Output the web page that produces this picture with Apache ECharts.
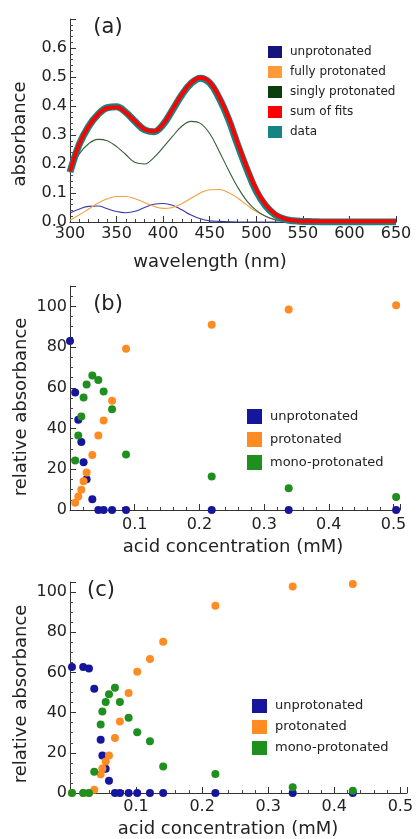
<!DOCTYPE html>
<html>
<head>
<meta charset="utf-8">
<script src="https://cdn.jsdelivr.net/npm/echarts@6/dist/echarts.min.js"></script>
<style>
html,body{margin:0;padding:0;background:#fff;}
#chart{width:417px;height:839px;}
</style>
</head>
<body>
<div id="chart"></div>
<script>
// ---- Panel (a): absorbance spectra ----
const wavelength = [300,310,320,330,340,350,360,370,380,390,400,410,420,430,440,450,460,470,480,490,500,510,520,530,540,550,560,570,580,590,600,610,620,630,640,650];
const unprotA  = [.031,.045,.054,.055,.046,.036,.032,.037,.050,.061,.064,.058,.042,.024,.011,.004,.002,.001,0,0,0,0,0,0,0,0,0,0,0,0,0,0,0,0,0,0];
const fullyA   = [.006,.025,.045,.065,.080,.088,.088,.080,.067,.054,.047,.050,.063,.082,.100,.111,.112,.102,.083,.058,.036,.020,.009,.004,.001,0,0,0,0,0,0,0,0,0,0,0];
const singlyA  = [.168,.235,.270,.285,.280,.260,.232,.205,.200,.222,.257,.295,.330,.347,.340,.305,.245,.180,.120,.072,.040,.020,.008,.003,.001,0,0,0,0,0,0,0,0,0,0,0];
const sumA     = [.175,.270,.330,.370,.393,.396,.377,.347,.320,.313,.338,.388,.440,.480,.497,.482,.432,.362,.272,.187,.112,.060,.028,.012,.005,.003,.003,.003,.003,.003,.003,.003,.003,.003,.003,.003];
const dataA    = [.172,.268,.330,.371,.394,.397,.378,.346,.318,.311,.336,.386,.438,.478,.496,.480,.428,.356,.266,.181,.106,.056,.025,.010,.004,.002,.001,0,0,0,0,0,0,0,0,0];

// ---- Panel (b): relative absorbance vs acid concentration ----
const concB    = [0, 0.008, 0.0128, 0.0175, 0.021, 0.0257, 0.0345, 0.0438, 0.052, 0.065, 0.0866, 0.219, 0.338, 0.504];
const unprotB  = [83, 57.7, 44.3, 33.4, 23.4, 15.1, 5.3, 0, 0, 0, 0, 0, 0, 0];
const protB    = [null, 3.6, 6.6, 10, 14.1, 18.4, 27, 36.6, 43.9, 53.6, 79.2, 91, 98.4, 100.5];
const monoB    = [null, 24.3, 36.6, 45.9, 55.3, 61.6, 66.1, 63.9, 58.2, 49.5, 27.2, 16.4, 10.7, 6.4];

// ---- Panel (c) ----
const concC    = [0.003, 0.020, 0.0287, 0.0367, 0.0464, 0.049, 0.054, 0.059, 0.068, 0.0755, 0.0887, 0.1017, 0.121, 0.141, 0.220, 0.337, 0.428];
const unprotC  = [62.7, 62.7, 62, 51.9, 26.5, 18.6, 12.1, 6.1, 0, 0, 0, 0, 0, 0, 0, 0, 0];
const protC    = [0, 0, 0, 1.6, 9.3, 12.2, 15.7, 18.7, 27.4, 35.6, 49.8, 60.3, 66.7, 75.3, 93.2, 102.8, 104];
const monoC    = [0, 0, 0, 10.6, 34.1, 40.6, 45.3, 49.1, 52.4, 45.3, 37.5, 30.2, 25.7, 13.2, 9.4, 2.8, 1.1];

const FONT = 'DejaVu Sans';
const C = {
  navy:'#14147f', orangeLine:'#f2a040', darkGreen:'#0d3d0d', red:'#ff0000', teal:'#158484',
  blue:'#16169c', orange:'#ff8c22', green:'#1f8f1f'
};

function pairs(xs, ys){ const out=[]; xs.forEach((x,i)=>{ if(ys[i]!==null && ys[i]!==undefined) out.push([x,ys[i]]); }); return out; }

const axisLineStyle = {lineStyle:{color:'#333',width:1}};
const tickStyle = {inside:true,length:6,lineStyle:{color:'#333'}};
const minorStyle = (n)=>({show:true,splitNumber:n,length:3,lineStyle:{color:'#444'}});
const labelBase = {color:'#222',fontFamily:FONT,fontSize:16};

const chart = echarts.init(document.getElementById('chart'), null, {renderer:'canvas'});

const option = {
  backgroundColor:'#ffffff',
  animation:false,
  grid:[
    {left:70, top:19, width:326, height:203},
    {left:70, top:286, width:330, height:224},
    {left:70, top:582, width:337, height:211}
  ],
  xAxis:[
    {gridIndex:0,type:'value',min:300,max:650,interval:50,axisLine:axisLineStyle,axisTick:tickStyle,minorTick:minorStyle(5),splitLine:{show:false},
     axisLabel:Object.assign({},labelBase,{margin:4})},
    {gridIndex:1,type:'value',min:0,max:0.51,interval:0.1,axisLine:axisLineStyle,axisTick:tickStyle,minorTick:minorStyle(5),splitLine:{show:false},
     axisLabel:Object.assign({},labelBase,{margin:7,formatter:v=>(v>0.001&&v<0.5001)?v.toFixed(1):''})},
    {gridIndex:2,type:'value',min:0,max:0.51,interval:0.1,axisLine:axisLineStyle,axisTick:tickStyle,minorTick:minorStyle(5),splitLine:{show:false},
     axisLabel:Object.assign({},labelBase,{margin:6,formatter:v=>(v>0.001&&v<0.5001)?v.toFixed(1):''})}
  ],
  yAxis:[
    {gridIndex:0,type:'value',min:0,max:0.7,interval:0.1,axisLine:Object.assign({show:true},axisLineStyle),axisTick:tickStyle,minorTick:minorStyle(5),splitLine:{show:false},
     axisLabel:Object.assign({},labelBase,{margin:3,formatter:v=>v<0.65?v.toFixed(1):''})},
    {gridIndex:1,type:'value',min:0,max:110,interval:20,axisLine:Object.assign({show:true},axisLineStyle),axisTick:tickStyle,minorTick:minorStyle(4),splitLine:{show:false},
     axisLabel:Object.assign({},labelBase,{margin:3,formatter:v=>v<=100?String(v):''})},
    {gridIndex:2,type:'value',min:0,max:105,interval:20,axisLine:Object.assign({show:true},axisLineStyle),axisTick:tickStyle,minorTick:minorStyle(4),splitLine:{show:false},
     axisLabel:Object.assign({},labelBase,{margin:3,formatter:v=>v<=100?String(v):''})}
  ],
  legend:[
    {orient:'vertical',left:268,top:46,padding:0,itemWidth:14,itemHeight:12,itemGap:8,icon:'rect',
     textStyle:{fontFamily:FONT,fontSize:12,color:'#222',padding:[0,0,0,3],lineHeight:12},
     data:[
      {name:'unprotonated',itemStyle:{color:C.navy,opacity:1}},
      {name:'fully protonated',itemStyle:{color:'#ff9a3a',opacity:1}},
      {name:'singly protonated',itemStyle:{color:C.darkGreen,opacity:1}},
      {name:'sum of fits',itemStyle:{color:C.red,opacity:1}},
      {name:'data',itemStyle:{color:C.teal,opacity:1}}
     ]},
    {orient:'vertical',left:247,top:409,padding:0,itemWidth:15,itemHeight:15,itemGap:8,icon:'rect',
     textStyle:{fontFamily:FONT,fontSize:13,color:'#222',padding:[0,0,0,3],lineHeight:15},
     data:[
      {name:'unprotonated',itemStyle:{color:C.blue,opacity:1}},
      {name:'protonated',itemStyle:{color:C.orange,opacity:1}},
      {name:'mono-protonated',itemStyle:{color:C.green,opacity:1}}
     ]},
    {orient:'vertical',left:252,top:699,padding:0,itemWidth:15,itemHeight:14,itemGap:7,icon:'rect',
     textStyle:{fontFamily:FONT,fontSize:13,color:'#222',padding:[0,0,0,3],lineHeight:14},
     data:[
      {name:'unprotonated',itemStyle:{color:C.blue,opacity:1}},
      {name:'protonated',itemStyle:{color:C.orange,opacity:1}},
      {name:'mono-protonated',itemStyle:{color:C.green,opacity:1}}
     ]}
  ],
  graphic:[
    {type:'text',x:108,y:28,style:{text:'(a)',fill:'#222',font:'21px "DejaVu Sans"',textAlign:'center',textVerticalAlign:'middle'}},
    {type:'text',x:108,y:305,style:{text:'(b)',fill:'#222',font:'21px "DejaVu Sans"',textAlign:'center',textVerticalAlign:'middle'}},
    {type:'text',x:101,y:591,style:{text:'(c)',fill:'#222',font:'21px "DejaVu Sans"',textAlign:'center',textVerticalAlign:'middle'}},
    {type:'text',x:20,y:134,rotation:Math.PI/2,style:{text:'absorbance',fill:'#222',font:'18px "DejaVu Sans"',textAlign:'center',textVerticalAlign:'middle'}},
    {type:'text',x:210,y:262,style:{text:'wavelength (nm)',fill:'#222',font:'18px "DejaVu Sans"',textAlign:'center',textVerticalAlign:'middle'}},
    {type:'text',x:21,y:407,rotation:Math.PI/2,style:{text:'relative absorbance',fill:'#222',font:'18px "DejaVu Sans"',textAlign:'center',textVerticalAlign:'middle'}},
    {type:'text',x:233,y:547,style:{text:'acid concentration (mM)',fill:'#222',font:'18px "DejaVu Sans"',textAlign:'center',textVerticalAlign:'middle'}},
    {type:'text',x:21,y:694,rotation:Math.PI/2,style:{text:'relative absorbance',fill:'#222',font:'18px "DejaVu Sans"',textAlign:'center',textVerticalAlign:'middle'}},
    {type:'text',x:228,y:829,style:{text:'acid concentration (mM)',fill:'#222',font:'18px "DejaVu Sans"',textAlign:'center',textVerticalAlign:'middle'}}
  ],
  series:[
    {name:'unprotonated',type:'line',xAxisIndex:0,yAxisIndex:0,data:pairs(wavelength,unprotA),smooth:0.4,showSymbol:false,symbol:'none',color:C.navy,lineStyle:{width:1.1,color:'#3a3aa6'}},
    {name:'fully protonated',type:'line',xAxisIndex:0,yAxisIndex:0,data:pairs(wavelength,fullyA),smooth:0.4,showSymbol:false,symbol:'none',color:'#ff9a3a',lineStyle:{width:1.1,color:C.orangeLine}},
    {name:'singly protonated',type:'line',xAxisIndex:0,yAxisIndex:0,data:pairs(wavelength,singlyA),smooth:0.4,showSymbol:false,symbol:'none',color:C.darkGreen,lineStyle:{width:1.1,color:'#365f36'}},
    {name:'data',type:'line',xAxisIndex:0,yAxisIndex:0,data:pairs(wavelength,dataA),smooth:0.4,showSymbol:false,symbol:'none',color:C.teal,lineStyle:{width:7,color:C.teal}},
    {name:'sum of fits',type:'line',xAxisIndex:0,yAxisIndex:0,data:pairs(wavelength,sumA),smooth:0.4,showSymbol:false,symbol:'none',color:C.red,lineStyle:{width:4,color:C.red}},

    {name:'unprotonated',type:'scatter',xAxisIndex:1,yAxisIndex:1,data:pairs(concB,unprotB),symbolSize:8,itemStyle:{color:C.blue,opacity:1}},
    {name:'protonated',type:'scatter',xAxisIndex:1,yAxisIndex:1,data:pairs(concB,protB),symbolSize:8,itemStyle:{color:C.orange,opacity:1}},
    {name:'mono-protonated',type:'scatter',xAxisIndex:1,yAxisIndex:1,data:pairs(concB,monoB),symbolSize:8,itemStyle:{color:C.green,opacity:1}},

    {name:'unprotonated',type:'scatter',xAxisIndex:2,yAxisIndex:2,data:pairs(concC,unprotC),symbolSize:8,itemStyle:{color:C.blue,opacity:1}},
    {name:'protonated',type:'scatter',xAxisIndex:2,yAxisIndex:2,data:pairs(concC,protC),symbolSize:8,itemStyle:{color:C.orange,opacity:1}},
    {name:'mono-protonated',type:'scatter',xAxisIndex:2,yAxisIndex:2,data:pairs(concC,monoC),symbolSize:8,itemStyle:{color:C.green,opacity:1}}
  ]
};
chart.setOption(option);
</script>
</body>
</html>
